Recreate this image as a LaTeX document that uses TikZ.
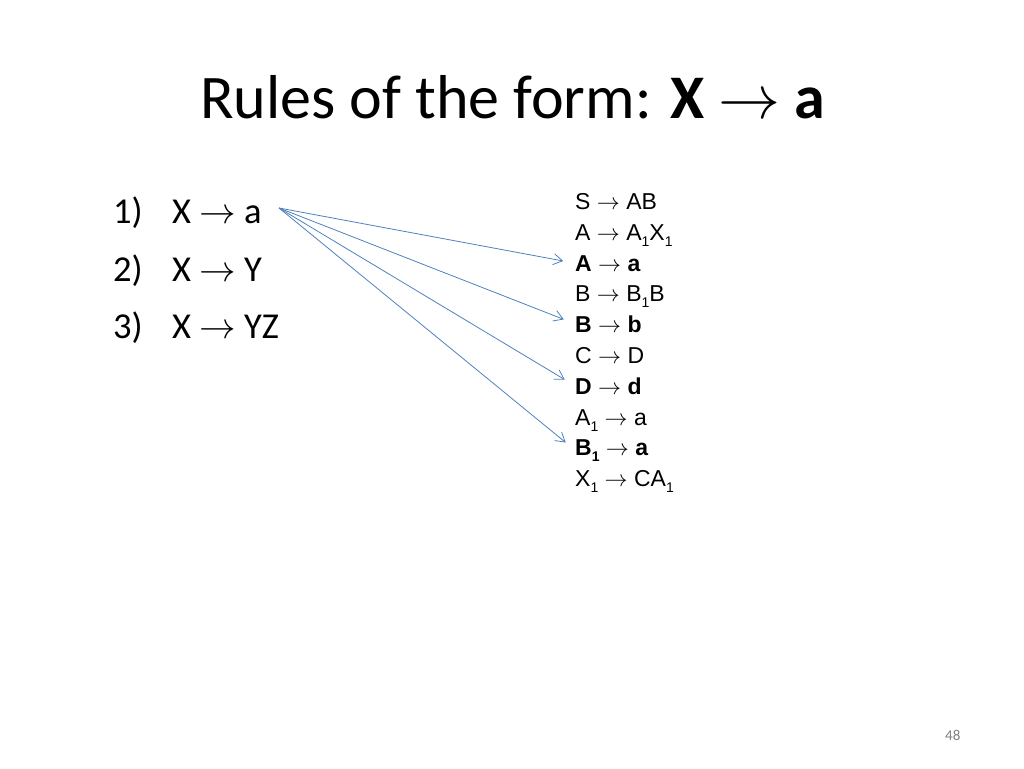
\documentclass[tikz,border=0pt]{standalone}
\usepackage{graphicx}
\usepackage{fontspec}
\setmainfont{Carlito}
\newfontfamily\arialfont{Liberation Sans}
\usetikzlibrary{arrows.meta}
\definecolor{arrowblue}{HTML}{4F81BD}
\newcommand{\idx}[1]{\raisebox{-0.5ex}{\fontsize{14}{14}\selectfont #1}}
\newcommand{\arr}{\resizebox{1em}{!}{$\rightarrow$}}
\tikzset{rule/.style={anchor=base west,inner sep=0pt,font=\arialfont\fontsize{23}{23}\selectfont}}
\tikzset{item/.style={anchor=base west,inner sep=0pt,font=\fontsize{36.5}{36.5}\selectfont}}
\tikzset{link/.style={draw=arrowblue,line width=0.8pt,-{Straight Barb[length=9pt,width=11pt]},shorten >=12pt}}

\begin{document}
\begin{tikzpicture}[x=1pt,y=-1pt]
                \useasboundingbox (0,0) rectangle (1024,768);

                % Title
                \node[anchor=base west,inner sep=0pt,font=\fontsize{62}{62}\selectfont] (title) at (200,118) {Rules of the form: \textbf{X} \arr{} \textbf{a}};

                % Forms
                \node[item] (numOne) at (113,223) {1)};
                \node[item] (numTwo) at (113,281) {2)};
                \node[item] (numThree) at (113,338) {3)};
                \node[item] (formA) at (172,223) {X \arr{} a};
                \node[item] (formY) at (172,281) {X \arr{} Y};
                \node[item] (formYZ) at (172,338) {X \arr{} YZ};

                % Grammar
                \node[rule] (ruleS) at (575,209) {S \arr{} AB};
                \node[rule] (ruleAX) at (575,240) {A \arr{} A\idx{1}X\idx{1}};
                \node[rule] (ruleA) at (575,271) {\textbf{A} \arr{} \textbf{a}};
                \node[rule] (ruleBB) at (575,301) {B \arr{} B\idx{1}B};
                \node[rule] (ruleB) at (575,332) {\textbf{B} \arr{} \textbf{b}};
                \node[rule] (ruleC) at (575,363) {C \arr{} D};
                \node[rule] (ruleD) at (575,394) {\textbf{D} \arr{} \textbf{d}};
                \node[rule] (ruleAone) at (575,425) {A\idx{1} \arr{} a};
                \node[rule] (ruleBone) at (575,455) {\textbf{B\idx{1}} \arr{} \textbf{a}};
                \node[rule] (ruleX) at (575,486) {X\idx{1} \arr{} CA\idx{1}};

                % Arrows
                \coordinate (src) at (279,208);
                \draw[link] (src) -- (ruleA.west);
                \draw[link] (src) -- (ruleB.west);
                \draw[link] (src) -- (ruleD.west);
                \draw[link] (src) -- (ruleBone.west);

                % Page number
                \node[anchor=base west,inner sep=0pt,text=gray,font=\fontsize{15}{15}\selectfont] (page) at (945,740) {48};
\end{tikzpicture}
\end{document}
